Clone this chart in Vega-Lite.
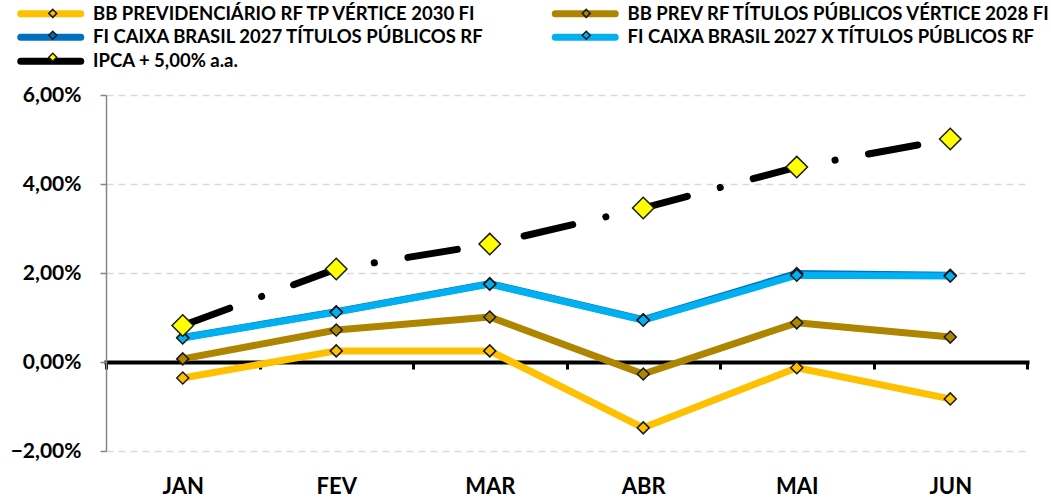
{
  "$schema": "https://vega.github.io/schema/vega-lite/v6.json",
  "autosize": "none",
  "width": 921,
  "height": 356,
  "padding": {"left": 106, "top": 95, "right": 24, "bottom": 46},
  "background": "white",
  "config": {
    "font": "Lato",
    "view": {"stroke": null},
    "legend": {"labelLimit": 600}
  },
  "data": {
    "values": [
      {"mes": "JAN", "serie": "BB PREVIDENCIÁRIO RF TP VÉRTICE 2030 FI", "valor": -0.36},
      {"mes": "FEV", "serie": "BB PREVIDENCIÁRIO RF TP VÉRTICE 2030 FI", "valor": 0.25},
      {"mes": "MAR", "serie": "BB PREVIDENCIÁRIO RF TP VÉRTICE 2030 FI", "valor": 0.25},
      {"mes": "ABR", "serie": "BB PREVIDENCIÁRIO RF TP VÉRTICE 2030 FI", "valor": -1.48},
      {"mes": "MAI", "serie": "BB PREVIDENCIÁRIO RF TP VÉRTICE 2030 FI", "valor": -0.13},
      {"mes": "JUN", "serie": "BB PREVIDENCIÁRIO RF TP VÉRTICE 2030 FI", "valor": -0.83},
      {"mes": "JAN", "serie": "BB PREV RF TÍTULOS PÚBLICOS VÉRTICE 2028 FI", "valor": 0.07},
      {"mes": "FEV", "serie": "BB PREV RF TÍTULOS PÚBLICOS VÉRTICE 2028 FI", "valor": 0.72},
      {"mes": "MAR", "serie": "BB PREV RF TÍTULOS PÚBLICOS VÉRTICE 2028 FI", "valor": 1.01},
      {"mes": "ABR", "serie": "BB PREV RF TÍTULOS PÚBLICOS VÉRTICE 2028 FI", "valor": -0.27},
      {"mes": "MAI", "serie": "BB PREV RF TÍTULOS PÚBLICOS VÉRTICE 2028 FI", "valor": 0.88},
      {"mes": "JUN", "serie": "BB PREV RF TÍTULOS PÚBLICOS VÉRTICE 2028 FI", "valor": 0.56},
      {"mes": "JAN", "serie": "FI CAIXA BRASIL 2027 TÍTULOS PÚBLICOS RF", "valor": 0.55},
      {"mes": "FEV", "serie": "FI CAIXA BRASIL 2027 TÍTULOS PÚBLICOS RF", "valor": 1.13},
      {"mes": "MAR", "serie": "FI CAIXA BRASIL 2027 TÍTULOS PÚBLICOS RF", "valor": 1.76},
      {"mes": "ABR", "serie": "FI CAIXA BRASIL 2027 TÍTULOS PÚBLICOS RF", "valor": 0.95},
      {"mes": "MAI", "serie": "FI CAIXA BRASIL 2027 TÍTULOS PÚBLICOS RF", "valor": 1.99},
      {"mes": "JUN", "serie": "FI CAIXA BRASIL 2027 TÍTULOS PÚBLICOS RF", "valor": 1.95},
      {"mes": "JAN", "serie": "FI CAIXA BRASIL 2027 X TÍTULOS PÚBLICOS RF", "valor": 0.54},
      {"mes": "FEV", "serie": "FI CAIXA BRASIL 2027 X TÍTULOS PÚBLICOS RF", "valor": 1.12},
      {"mes": "MAR", "serie": "FI CAIXA BRASIL 2027 X TÍTULOS PÚBLICOS RF", "valor": 1.75},
      {"mes": "ABR", "serie": "FI CAIXA BRASIL 2027 X TÍTULOS PÚBLICOS RF", "valor": 0.94},
      {"mes": "MAI", "serie": "FI CAIXA BRASIL 2027 X TÍTULOS PÚBLICOS RF", "valor": 1.95},
      {"mes": "JUN", "serie": "FI CAIXA BRASIL 2027 X TÍTULOS PÚBLICOS RF", "valor": 1.93},
      {"mes": "JAN", "serie": "IPCA + 5,00% a.a.", "valor": 0.82},
      {"mes": "FEV", "serie": "IPCA + 5,00% a.a.", "valor": 2.09},
      {"mes": "MAR", "serie": "IPCA + 5,00% a.a.", "valor": 2.65},
      {"mes": "ABR", "serie": "IPCA + 5,00% a.a.", "valor": 3.46},
      {"mes": "MAI", "serie": "IPCA + 5,00% a.a.", "valor": 4.38},
      {"mes": "JUN", "serie": "IPCA + 5,00% a.a.", "valor": 5.01}
    ]
  },
  "encoding": {
    "x": {
      "field": "mes",
      "type": "nominal",
      "sort": ["JAN", "FEV", "MAR", "ABR", "MAI", "JUN"],
      "scale": {"paddingInner": 0, "paddingOuter": 0},
      "axis": {
        "title": null,
        "labelAngle": 0,
        "labelFont": "Lato",
        "labelFontWeight": "bold",
        "labelFontSize": 22,
        "labelColor": "#000000",
        "labelPadding": 107,
        "offset": -89,
        "domainColor": "#000000",
        "domainWidth": 4,
        "domainCap": "square",
        "tickBand": "extent",
        "tickColor": "#000000",
        "tickWidth": 3,
        "tickSize": 7,
        "grid": false
      }
    },
    "y": {
      "field": "valor",
      "type": "quantitative",
      "scale": {"domain": [-2, 6], "nice": false, "zero": false},
      "axis": {
        "title": null,
        "values": [-2, 0, 2, 4, 6],
        "labelExpr": "replace(format(datum.value, '.2f'), '.', ',') + '%'",
        "labelFont": "Lato",
        "labelFontWeight": "bold",
        "labelFontSize": 21,
        "labelColor": "#000000",
        "labelPadding": 19,
        "domainColor": "#868686",
        "domainWidth": 1.5,
        "tickColor": "#868686",
        "tickWidth": 1.5,
        "tickSize": 6,
        "grid": true,
        "gridColor": "#d9d9d9",
        "gridWidth": 1.5,
        "gridDash": [7, 5]
      }
    }
  },
  "layer": [
    {
      "transform": [{"filter": "datum.serie !== 'IPCA + 5,00% a.a.'"}],
      "mark": {"type": "line", "strokeWidth": 7, "strokeJoin": "round"},
      "encoding": {
        "stroke": {
          "field": "serie",
          "type": "nominal",
          "scale": {
            "domain": [
              "BB PREVIDENCIÁRIO RF TP VÉRTICE 2030 FI",
              "BB PREV RF TÍTULOS PÚBLICOS VÉRTICE 2028 FI",
              "FI CAIXA BRASIL 2027 TÍTULOS PÚBLICOS RF",
              "FI CAIXA BRASIL 2027 X TÍTULOS PÚBLICOS RF",
              "IPCA + 5,00% a.a."
            ],
            "range": ["#FFC000", "#AE8500", "#0070C0", "#00B0F0", "#000000"]
          },
          "legend": {
            "title": null,
            "orient": "none",
            "legendX": -64.5,
            "legendY": -91,
            "direction": "horizontal",
            "columns": 2,
            "columnPadding": 56.5,
            "rowPadding": -6.5,
            "symbolType": "M-7.5,0H7.5",
            "symbolSize": 64,
            "symbolStrokeWidth": 1.5,
            "labelOffset": 33,
            "labelFont": "Lato",
            "labelFontWeight": "bold",
            "labelFontSize": 18.5,
            "labelColor": "#000000",
            "labelLimit": 600,
            "encode": {"symbols": {"update": {"strokeWidth": {"value": 7}, "strokeCap": {"value": "round"}}}}
          }
        }
      }
    },
    {
      "transform": [{"filter": "datum.serie === 'IPCA + 5,00% a.a.'"}],
      "mark": {"type": "line", "strokeWidth": 7, "stroke": "#000000", "strokeCap": "round", "strokeDash": [50, 34, 0.1, 34]}
    },
    {
      "mark": {"type": "point", "shape": "diamond", "filled": true, "stroke": "#1a1a1a", "strokeWidth": 1.5, "opacity": 1},
      "encoding": {
        "fill": {
          "field": "serie",
          "type": "nominal",
          "sort": null,
          "scale": {"range": ["#FFC000", "#AE8500", "#0070C0", "#00B0F0", "#FFFF00"]},
          "legend": {
            "title": null,
            "orient": "none",
            "legendX": -62.5,
            "legendY": -91,
            "direction": "horizontal",
            "columns": 2,
            "columnPadding": 86.5,
            "rowPadding": 3,
            "symbolType": "diamond",
            "symbolSize": 64,
            "symbolStrokeColor": "#1a1a1a",
            "symbolStrokeWidth": 1.5,
            "labelOffset": 37,
            "labelFont": "Lato",
            "labelFontWeight": "bold",
            "labelFontSize": 18.5,
            "labelOpacity": 0,
            "labelLimit": 600
          }
        },
        "size": {"condition": {"test": "datum.serie === 'IPCA + 5,00% a.a.'", "value": 460}, "value": 144}
      }
    }
  ]
}
